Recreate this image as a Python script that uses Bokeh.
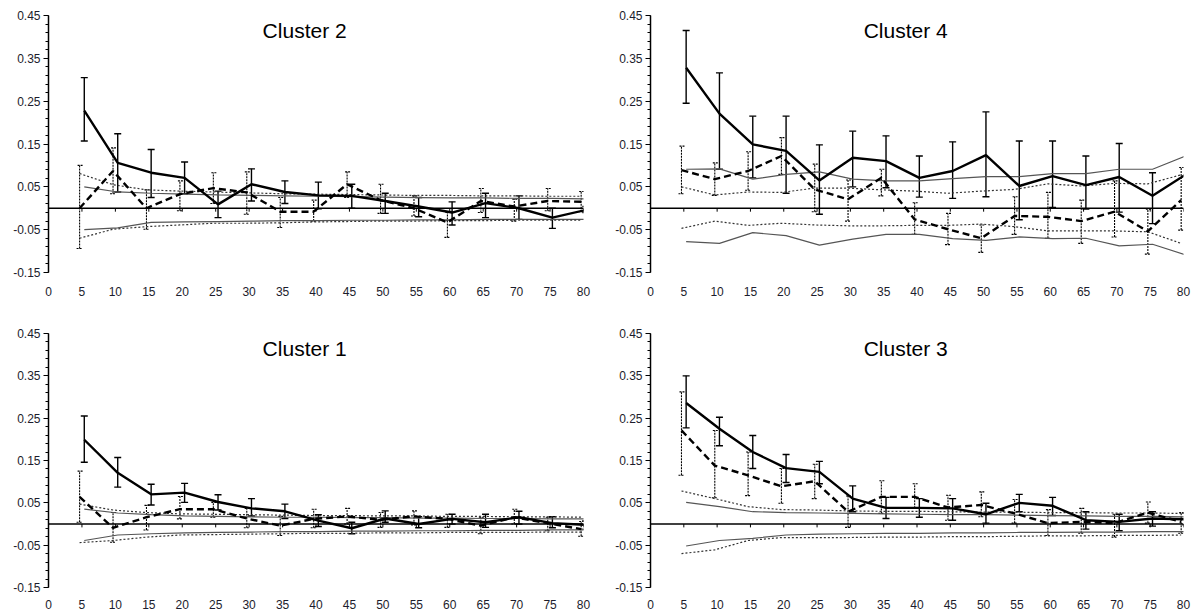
from bokeh.plotting import figure
from bokeh.models import (ColumnDataSource, Whisker, TeeHead, FixedTicker, Span, Label,
                          PrintfTickFormatter)
from bokeh.layouts import column, row
from bokeh.embed import file_html
from bokeh.resources import INLINE

# ---------------- data ----------------
X = [5, 10, 15, 20, 25, 30, 35, 40, 45, 50, 55, 60, 65, 70, 75, 80]
X_TICKS = [0, 5, 10, 15, 20, 25, 30, 35, 40, 45, 50, 55, 60, 65, 70, 75, 80]
Y_TICKS = [-0.15, -0.05, 0.05, 0.15, 0.25, 0.35, 0.45]
TITLES = ["Cluster 2", "Cluster 4", "Cluster 1", "Cluster 3"]

# Cluster 2
c2_solid = [0.228, 0.106, 0.083, 0.071, 0.009, 0.056, 0.038, 0.030, 0.029, 0.017, 0.004, -0.010, 0.012, 0.000, -0.022, -0.004]
c2_solid_hi = [0.305, 0.174, 0.137, 0.108, 0.040, 0.092, 0.064, 0.061, 0.056, 0.035, 0.025, 0.015, 0.035, 0.029, 0.000, 0.004]
c2_solid_lo = [0.157, 0.038, 0.025, 0.034, -0.022, 0.017, 0.011, -0.001, 0.000, -0.012, -0.020, -0.039, -0.022, -0.026, -0.047, -0.010]
c2_dash = [0.000, 0.087, 0.000, 0.033, 0.047, 0.037, -0.008, -0.008, 0.056, 0.019, 0.000, -0.033, 0.017, 0.004, 0.017, 0.015]
c2_dash_hi = [0.100, 0.141, 0.043, 0.064, 0.083, 0.085, 0.025, 0.019, 0.085, 0.056, 0.029, -0.010, 0.046, 0.021, 0.046, 0.039]
c2_dash_lo = [-0.094, 0.034, -0.049, -0.006, 0.011, -0.014, -0.045, -0.030, 0.025, -0.012, -0.018, -0.068, -0.010, -0.030, -0.006, -0.008]
c2_env_up = [0.050, 0.038, 0.035, 0.033, 0.031, 0.030, 0.029, 0.028, 0.027, 0.026, 0.025, 0.024, 0.024, 0.023, 0.023, 0.022]
c2_env_dn = [-0.050, -0.046, -0.033, -0.032, -0.031, -0.030, -0.029, -0.029, -0.028, -0.028, -0.027, -0.027, -0.026, -0.026, -0.026, -0.026]
c2_dot_up = [0.081, 0.055, 0.043, 0.040, 0.038, 0.036, 0.034, 0.033, 0.032, 0.031, 0.030, 0.030, 0.029, 0.029, 0.028, 0.028]
c2_dot_dn = [-0.070, -0.049, -0.043, -0.039, -0.035, -0.035, -0.034, -0.032, -0.031, -0.030, -0.030, -0.029, -0.029, -0.028, -0.028, -0.028]

# Cluster 4
c4_solid = [0.328, 0.221, 0.149, 0.134, 0.065, 0.118, 0.110, 0.071, 0.087, 0.124, 0.052, 0.075, 0.054, 0.073, 0.029, 0.079]
c4_solid_hi = [0.415, 0.316, 0.215, 0.215, 0.148, 0.180, 0.169, 0.122, 0.155, 0.225, 0.157, 0.157, 0.122, 0.151, 0.083, None]
c4_solid_lo = [0.245, 0.091, 0.071, 0.035, -0.014, 0.050, 0.048, 0.026, 0.023, 0.027, -0.027, 0.002, -0.002, -0.009, -0.036, None]
c4_dash = [0.089, 0.068, 0.087, 0.122, 0.044, 0.021, 0.071, -0.026, -0.049, -0.070, -0.018, -0.020, -0.030, -0.008, -0.054, 0.019]
c4_dash_hi = [0.145, 0.106, 0.132, 0.165, 0.103, 0.066, 0.091, 0.013, -0.012, -0.039, 0.027, 0.037, 0.019, 0.064, -0.002, 0.095]
c4_dash_lo = [0.034, 0.030, 0.042, 0.079, -0.008, -0.030, 0.029, -0.061, -0.085, -0.103, -0.061, -0.070, -0.082, -0.067, -0.107, -0.051]
c4_env_up = [0.091, 0.092, 0.068, 0.079, 0.085, 0.068, 0.064, 0.064, 0.069, 0.074, 0.074, 0.081, 0.081, 0.091, 0.091, 0.122]
c4_env_dn = [-0.078, -0.082, -0.057, -0.064, -0.086, -0.072, -0.061, -0.061, -0.071, -0.075, -0.067, -0.071, -0.070, -0.088, -0.084, -0.109]
c4_dot_up = [0.050, 0.031, 0.038, 0.037, 0.047, 0.047, 0.043, 0.040, 0.035, 0.040, 0.044, 0.057, 0.052, 0.058, 0.057, 0.078]
c4_dot_dn = [-0.047, -0.030, -0.040, -0.035, -0.039, -0.041, -0.041, -0.040, -0.040, -0.037, -0.043, -0.053, -0.053, -0.053, -0.055, -0.082]

# Cluster 1
c1_solid = [0.199, 0.121, 0.070, 0.074, 0.052, 0.037, 0.030, 0.008, -0.010, 0.013, 0.000, 0.012, 0.004, 0.016, 0.002, -0.002]
c1_solid_hi = [0.255, 0.157, 0.094, 0.096, 0.069, 0.060, 0.047, 0.022, 0.004, 0.031, 0.017, 0.023, 0.023, 0.030, 0.017, 0.008]
c1_solid_lo = [0.146, 0.087, 0.045, 0.051, 0.033, 0.019, 0.013, -0.006, -0.023, 0.004, -0.009, 0.000, -0.008, 0.000, -0.009, -0.012]
c1_dash = [0.064, -0.009, 0.016, 0.035, 0.035, 0.013, -0.004, 0.012, 0.018, 0.010, 0.018, 0.012, -0.004, 0.016, 0.002, -0.012]
c1_dash_hi = [0.125, 0.027, 0.044, 0.065, 0.051, 0.037, 0.018, 0.035, 0.037, 0.027, 0.031, 0.023, 0.016, 0.035, 0.016, 0.006]
c1_dash_lo = [0.004, -0.043, -0.014, 0.012, 0.016, -0.009, -0.027, -0.009, 0.000, -0.008, -0.002, -0.008, -0.023, 0.000, -0.016, -0.029]
c1_env_up = [0.035, 0.026, 0.022, 0.019, 0.018, 0.017, 0.016, 0.016, 0.015, 0.015, 0.014, 0.014, 0.013, 0.013, 0.012, 0.012]
c1_env_dn = [-0.039, -0.026, -0.023, -0.021, -0.020, -0.019, -0.018, -0.018, -0.017, -0.017, -0.016, -0.016, -0.015, -0.015, -0.014, -0.014]
c1_dot_up = [0.047, 0.033, 0.027, 0.024, 0.023, 0.022, 0.021, 0.020, 0.020, 0.019, 0.019, 0.018, 0.018, 0.017, 0.017, 0.016]
c1_dot_dn = [-0.044, -0.039, -0.031, -0.026, -0.025, -0.024, -0.023, -0.022, -0.022, -0.021, -0.021, -0.020, -0.020, -0.020, -0.019, -0.019]

# Cluster 3
c3_solid = [0.286, 0.225, 0.170, 0.132, 0.123, 0.060, 0.038, 0.038, 0.037, 0.023, 0.050, 0.043, 0.009, 0.005, 0.013, 0.011]
c3_solid_hi = [0.350, 0.252, 0.209, 0.164, 0.148, 0.090, 0.063, 0.060, 0.060, 0.049, 0.070, 0.063, 0.029, 0.023, 0.029, 0.025]
c3_solid_lo = [0.227, 0.185, 0.131, 0.098, 0.095, 0.029, 0.013, 0.016, 0.009, 0.002, 0.029, 0.020, -0.012, -0.016, -0.005, -0.002]
c3_dash = [0.221, 0.138, 0.115, 0.089, 0.101, 0.029, 0.064, 0.064, 0.039, 0.045, 0.025, 0.002, 0.005, 0.002, 0.027, 0.005]
c3_dash_hi = [0.312, 0.221, 0.170, 0.131, 0.141, 0.066, 0.102, 0.095, 0.068, 0.076, 0.058, 0.034, 0.037, 0.023, 0.052, 0.027]
c3_dash_lo = [0.115, 0.062, 0.067, 0.049, 0.060, -0.008, 0.025, 0.037, 0.009, 0.017, 0.002, -0.027, -0.022, -0.031, 0.002, -0.022]
c3_env_up = [0.051, 0.041, 0.029, 0.027, 0.026, 0.025, 0.024, 0.023, 0.022, 0.022, 0.021, 0.020, 0.019, 0.018, 0.018, 0.017]
c3_env_dn = [-0.052, -0.039, -0.034, -0.026, -0.024, -0.023, -0.022, -0.022, -0.021, -0.021, -0.020, -0.020, -0.019, -0.019, -0.018, -0.018]
c3_dot_up = [0.078, 0.060, 0.041, 0.034, 0.033, 0.031, 0.030, 0.030, 0.029, 0.028, 0.028, 0.027, 0.027, 0.026, 0.026, 0.025]
c3_dot_dn = [-0.070, -0.061, -0.039, -0.032, -0.032, -0.032, -0.031, -0.031, -0.030, -0.030, -0.029, -0.028, -0.028, -0.027, -0.027, -0.026]

FONT = "Liberation Sans"
SHIFT = 0.35  # horizontal offset between the two series


def whisker_src(xs, hi, lo):
    keep = [i for i in range(len(xs)) if hi[i] is not None and lo[i] is not None]
    return ColumnDataSource(dict(x=[xs[i] for i in keep], hi=[hi[i] for i in keep],
                                 lo=[lo[i] for i in keep]))


def panel(title, solid, s_hi, s_lo, dash, d_hi, d_lo, env_up, env_dn, dot_up, dot_dn,
          width, height, bl, br, bt, bb, standoff):
    p = figure(width=width, height=height, x_range=(0, 80), y_range=(-0.15, 0.45),
               output_backend="svg", toolbar_location=None,
               min_border_left=bl, min_border_right=br, min_border_top=bt, min_border_bottom=bb)
    p.outline_line_color = None
    p.xgrid.visible = False
    p.ygrid.visible = False
    p.background_fill_color = "white"
    p.border_fill_color = "white"

    # x axis: labels only
    p.xaxis.ticker = FixedTicker(ticks=X_TICKS)
    p.xaxis.axis_line_color = None
    p.xaxis.major_tick_line_color = None
    p.xaxis.minor_tick_line_color = None
    p.xaxis.major_label_standoff = standoff
    p.xaxis.major_label_text_font = FONT
    p.xaxis.major_label_text_font_size = "12px"
    p.xaxis.major_label_text_color = "#1c1c2c"

    # y axis
    minor = [round(-0.15 + 0.02 * i, 2) for i in range(31)]
    p.yaxis.ticker = FixedTicker(ticks=Y_TICKS, minor_ticks=minor)
    p.yaxis.formatter = PrintfTickFormatter(format="%.2f")
    p.yaxis.axis_line_color = "black"
    p.yaxis.axis_line_width = 1.5
    p.yaxis.major_tick_in = 0
    p.yaxis.major_tick_out = 5
    p.yaxis.minor_tick_in = 0
    p.yaxis.minor_tick_out = 3
    p.yaxis.major_tick_line_color = "black"
    p.yaxis.minor_tick_line_color = "black"
    p.yaxis.major_label_standoff = 3
    p.yaxis.major_label_text_font = FONT
    p.yaxis.major_label_text_font_size = "12px"
    p.yaxis.major_label_text_color = "#1c1c2c"

    # zero line with small ticks
    p.add_layout(Span(location=0, dimension="width", line_color="black", line_width=1.5))
    p.segment(x0=X, y0=[0] * len(X), x1=X, y1=[-0.008] * len(X), line_color="black", line_width=1)

    xa = [x + SHIFT for x in X]
    xb = [x - SHIFT for x in X]

    # envelopes
    p.line(xa, env_up, line_color="#555555", line_width=1.2)
    p.line(xa, env_dn, line_color="#555555", line_width=1.2)
    p.line(xb, dot_up, line_color="#333333", line_width=1.2, line_dash="2 2")
    p.line(xb, dot_dn, line_color="#333333", line_width=1.2, line_dash="2 2")

    # error bars
    wa = Whisker(source=whisker_src(xa, s_hi, s_lo), base="x", upper="hi", lower="lo",
                 line_color="black", line_width=1.4,
                 upper_head=TeeHead(size=7, line_color="black", line_width=1.4),
                 lower_head=TeeHead(size=7, line_color="black", line_width=1.4))
    wb = Whisker(source=whisker_src(xb, d_hi, d_lo), base="x", upper="hi", lower="lo",
                 line_color="black", line_width=1.1, line_dash="2 1",
                 upper_head=TeeHead(size=6, line_color="black", line_width=1.1, line_dash="2 1"),
                 lower_head=TeeHead(size=6, line_color="black", line_width=1.1, line_dash="2 1"))
    p.add_layout(wa)
    p.add_layout(wb)

    # mean lines
    p.line(xb, dash, line_color="black", line_width=2.4, line_dash="7 4")
    p.line(xa, solid, line_color="black", line_width=2.4)

    p.add_layout(Label(x=38.3, y=0.415, text=title, text_align="center", text_baseline="middle",
                       text_font=FONT, text_font_size="21px", text_color="black"))
    return p


p2 = panel(TITLES[0], c2_solid, c2_solid_hi, c2_solid_lo, c2_dash, c2_dash_hi, c2_dash_lo,
           c2_env_up, c2_env_dn, c2_dot_up, c2_dot_dn, 601, 305, 48, 18, 15, 33, 8)
p4 = panel(TITLES[1], c4_solid, c4_solid_hi, c4_solid_lo, c4_dash, c4_dash_hi, c4_dash_lo,
           c4_env_up, c4_env_dn, c4_dot_up, c4_dot_dn, 601, 305, 49, 19, 15, 33, 8)
p1 = panel(TITLES[2], c1_solid, c1_solid_hi, c1_solid_lo, c1_dash, c1_dash_hi, c1_dash_lo,
           c1_env_up, c1_env_dn, c1_dot_up, c1_dot_dn, 601, 306, 48, 18, 28, 21, 6)
p3 = panel(TITLES[3], c3_solid, c3_solid_hi, c3_solid_lo, c3_dash, c3_dash_hi, c3_dash_lo,
           c3_env_up, c3_env_dn, c3_dot_up, c3_dot_dn, 601, 306, 49, 19, 28, 21, 6)

layout = column(row(p2, p4, spacing=0), row(p1, p3, spacing=0), spacing=0)
open("out.html", "w").write(file_html(layout, INLINE))
